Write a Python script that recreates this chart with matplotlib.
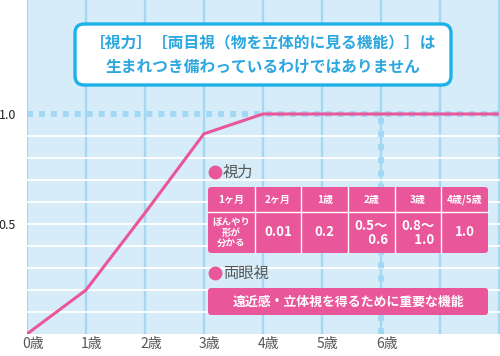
import matplotlib
matplotlib.use("Agg")
import matplotlib.pyplot as plt
from matplotlib.patches import FancyBboxPatch
from matplotlib.transforms import Affine2D, ScaledTranslation

plt.rcParams['font.family'] = ['Noto Sans CJK JP', 'DejaVu Sans']

# ── data ──────────────────────────────────────────────────────────────────────
ages = [0, 1, 2, 3, 4, 5, 6, 7, 8]
vision = [0.0, 0.2, 0.55, 0.91, 1.0, 1.0, 1.0, 1.0, 1.0]
age_labels = ['0歳', '1歳', '2歳', '3歳', '4歳', '5歳', '6歳']
y_ticks = [0.5, 1.0]
y_tick_labels = ['0.5', '1.0']

title_lines = '［視力］［両目視（物を立体的に見る機能）］は\n生まれつき備わっているわけではありません'
table_head = ['1ヶ月', '2ヶ月', '1歳', '2歳', '3歳', '4歳/5歳']
table_body = ['ぼんやり\n形が\n分かる', '0.01', '0.2', '0.5〜\n　0.6', '0.8〜\n　1.0', '1.0']
binocular_note = '遠近感・立体視を得るために重要な機能'

# ── colours ───────────────────────────────────────────────────────────────────
BG = '#d6edf9'
VLINE = '#a3d8f4'
PINK = '#e9579a'
CYAN = '#1cb2e8'
TITLE_TXT = '#2ca7df'
GREY = '#555555'

W, H = 500, 356
fig = plt.figure(figsize=(W / 100, H / 100), dpi=100, facecolor='white')
ax = fig.add_axes([27 / W, 22 / H, 473 / W, 334 / H])
ax.set_facecolor(BG)
ax.set_xlim(0, 8.02)
ax.set_ylim(0, 334 / 220)
for s in ax.spines.values():
    s.set_visible(False)

# grid
for x in ages:
    ax.axvline(x, color=VLINE, lw=1.7, zorder=1)
for i in range(1, 10):
    ax.axhline(i / 10, color='white', lw=1.3, zorder=1)
ax.axhline(1.0, color=VLINE, lw=4.3, dashes=(1, 1), zorder=2)
ax.plot([6, 6], [0, 1.0], color=VLINE, lw=4.3, dashes=(1, 1.2), zorder=2)

ax.plot(ages, vision, color=PINK, lw=2.2, zorder=3, solid_capstyle='butt')

# ticks
ax.set_yticks(y_ticks)
ax.set_yticklabels(y_tick_labels, fontsize=9, color='#222222')
ax.tick_params(axis='y', length=0, pad=8)
ax.set_xticks(ages[:len(age_labels)])
ax.set_xticklabels(age_labels, fontsize=10, color=GREY, ha='left')
ax.tick_params(axis='x', length=0, pad=2)
off = ScaledTranslation(-5 / 100, 0, fig.dpi_scale_trans)
for lab in ax.get_xticklabels():
    lab.set_transform(lab.get_transform() + off)

# figure pixel coords (origin bottom-left)
px = Affine2D().scale(1 / W, 1 / H) + fig.transFigure

# ── title box ─────────────────────────────────────────────────────────────────
fig.patches.append(FancyBboxPatch((75, 271), 376, 61, boxstyle='round,pad=0,rounding_size=9',
                                  fc='white', ec=CYAN, lw=2.4, transform=px, zorder=5))
fig.text(263, 301, title_lines, transform=px, ha='center', va='center', fontsize=11.3,
         fontweight='bold', color=TITLE_TXT, linespacing=1.5, zorder=6)

# ── vision table ──────────────────────────────────────────────────────────────
fig.lines.append(plt.Line2D([215], [184], marker='o', ms=10, color=PINK, mec='none', transform=px, zorder=6))
fig.text(223, 184, '視力', transform=px, ha='left', va='center', fontsize=11, color=GREY, zorder=6)

tx0, tx1 = 208, 488
ty0, tmid, ty1 = 103, 144, 169
fig.patches.append(FancyBboxPatch((tx0, ty0), tx1 - tx0, ty1 - ty0, boxstyle='round,pad=0,rounding_size=3',
                                  fc=PINK, ec='none', transform=px, zorder=5))
cw = (tx1 - tx0) / len(table_head)
fig.lines.append(plt.Line2D([tx0, tx1], [tmid, tmid], color='white', lw=1, transform=px, zorder=6))
for i in range(1, len(table_head)):
    fig.lines.append(plt.Line2D([tx0 + i * cw] * 2, [ty0, ty1], color='white', lw=1, transform=px, zorder=6))
for i, (h, b) in enumerate(zip(table_head, table_body)):
    cx = tx0 + (i + 0.5) * cw
    fig.text(cx, (tmid + ty1) / 2, h, transform=px, ha='center', va='center', fontsize=7.2,
             fontweight='bold', color='white', zorder=7)
    if i == 0:
        fig.text(cx, (ty0 + tmid) / 2, b, transform=px, ha='center', va='center', fontsize=6.8,
                 fontweight='bold', color='white', linespacing=1.05, zorder=7)
    else:
        fig.text(cx, (ty0 + tmid) / 2, b, transform=px, ha='center', va='center', fontsize=9.5,
                 fontweight='bold', color='white', linespacing=1.0, zorder=7)

# ── binocular note ────────────────────────────────────────────────────────────
fig.lines.append(plt.Line2D([215], [83], marker='o', ms=10, color=PINK, mec='none', transform=px, zorder=6))
fig.text(223, 83, '両眼視', transform=px, ha='left', va='center', fontsize=11, color=GREY, zorder=6)
fig.patches.append(FancyBboxPatch((tx0, 41), tx1 - tx0, 27, boxstyle='round,pad=0,rounding_size=3',
                                  fc=PINK, ec='none', transform=px, zorder=5))
fig.text((tx0 + tx1) / 2, 54.5, binocular_note, transform=px, ha='center', va='center', fontsize=9.3,
         color='white', fontweight='bold', zorder=7)

fig.savefig('out.png', dpi=100, facecolor='white')
